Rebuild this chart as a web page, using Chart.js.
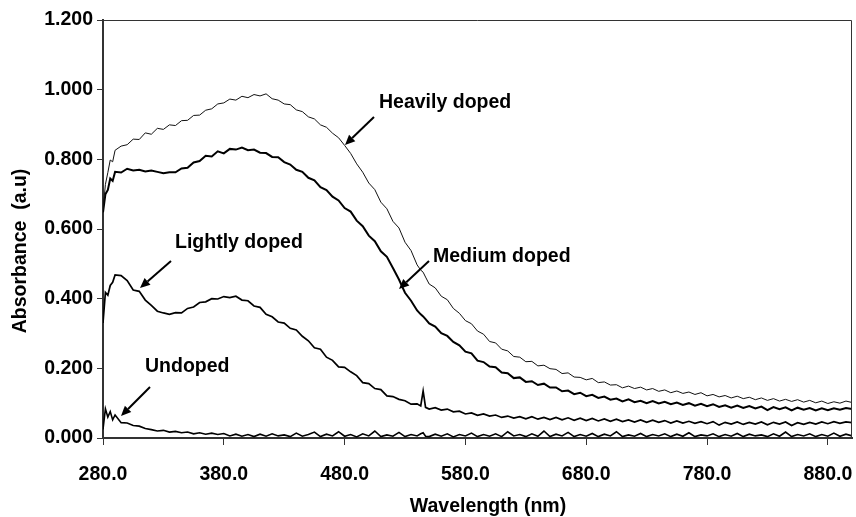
<!DOCTYPE html>
<html>
<head>
<meta charset="utf-8">
<script src="https://cdn.jsdelivr.net/npm/chart.js@4/dist/chart.umd.min.js"></script>
<style>
  body { margin: 0; background: #fff; }
  canvas { display: block; }
</style>
</head>
<body>
<canvas id="absChart" width="856" height="517"></canvas>
<script>
// wavelength (nm)
const wavelength = [280, 282, 284, 286, 288, 290, 295, 300, 305, 310, 315, 320, 325, 330, 335, 340, 345, 350, 355, 360,
  365, 370, 375, 380, 385, 390, 395, 400, 405, 410, 415, 420, 425, 430, 435, 440, 445, 450, 455, 460,
  465, 470, 475, 480, 485, 490, 495, 500, 505, 510, 515, 520, 525, 530, 535, 540, 543, 545, 547, 550, 555, 560,
  565, 570, 575, 580, 585, 590, 595, 600, 605, 610, 615, 620, 625, 630, 635, 640, 645, 650, 655, 660,
  665, 670, 675, 680, 685, 690, 695, 700, 705, 710, 715, 720, 725, 730, 735, 740, 745, 750, 755, 760,
  765, 770, 775, 780, 785, 790, 795, 800, 805, 810, 815, 820, 825, 830, 835, 840, 845, 850, 855, 860,
  865, 870, 875, 880, 885, 890, 895, 900];

const heavilyDoped = [0.655, 0.728, 0.762, 0.798, 0.793, 0.826, 0.838, 0.842, 0.858, 0.857, 0.876, 0.872, 0.889, 0.886, 0.899, 0.897, 0.911, 0.912, 0.926, 0.927,
  0.941, 0.945, 0.959, 0.962, 0.973, 0.970, 0.981, 0.977, 0.986, 0.982, 0.988, 0.974, 0.970, 0.959, 0.957, 0.942, 0.937, 0.922, 0.916, 0.899,
  0.892, 0.875, 0.862, 0.840, 0.817, 0.787, 0.763, 0.732, 0.713, 0.677, 0.658, 0.622, 0.603, 0.562, 0.538, 0.497, 0.482, 0.476, 0.462, 0.442, 0.431, 0.407,
  0.397, 0.372, 0.358, 0.337, 0.328, 0.307, 0.298, 0.277, 0.273, 0.255, 0.250, 0.234, 0.232, 0.219, 0.220, 0.207, 0.209, 0.199, 0.197, 0.185,
  0.187, 0.175, 0.174, 0.167, 0.171, 0.159, 0.161, 0.152, 0.153, 0.144, 0.149, 0.142, 0.146, 0.138, 0.142, 0.134, 0.138, 0.130, 0.135, 0.128,
  0.132, 0.125, 0.130, 0.121, 0.125, 0.118, 0.122, 0.115, 0.120, 0.113, 0.117, 0.110, 0.115, 0.108, 0.113, 0.106, 0.111, 0.105, 0.110, 0.103,
  0.108, 0.101, 0.106, 0.099, 0.104, 0.100, 0.106, 0.102];

const mediumDoped = [0.648, 0.700, 0.712, 0.745, 0.738, 0.764, 0.762, 0.773, 0.768, 0.770, 0.765, 0.768, 0.764, 0.760, 0.763, 0.763, 0.774, 0.776, 0.791, 0.795,
  0.810, 0.808, 0.823, 0.817, 0.830, 0.828, 0.834, 0.826, 0.828, 0.819, 0.818, 0.807, 0.806, 0.792, 0.785, 0.770, 0.764, 0.747, 0.740, 0.720,
  0.712, 0.693, 0.682, 0.660, 0.650, 0.624, 0.608, 0.581, 0.565, 0.536, 0.520, 0.488, 0.455, 0.417, 0.394, 0.366, 0.355, 0.349, 0.341, 0.329, 0.320, 0.301,
  0.293, 0.276, 0.266, 0.248, 0.243, 0.222, 0.218, 0.205, 0.203, 0.188, 0.186, 0.172, 0.174, 0.161, 0.163, 0.152, 0.156, 0.145, 0.145, 0.134,
  0.136, 0.126, 0.130, 0.120, 0.124, 0.115, 0.119, 0.110, 0.113, 0.105, 0.111, 0.103, 0.107, 0.100, 0.106, 0.099, 0.104, 0.097, 0.102, 0.095,
  0.100, 0.093, 0.098, 0.091, 0.097, 0.089, 0.094, 0.087, 0.093, 0.086, 0.092, 0.085, 0.090, 0.080, 0.089, 0.083, 0.088, 0.079, 0.087, 0.081,
  0.086, 0.079, 0.085, 0.080, 0.085, 0.081, 0.086, 0.083];

const lightlyDoped = [0.330, 0.418, 0.410, 0.438, 0.447, 0.468, 0.466, 0.452, 0.425, 0.421, 0.396, 0.381, 0.364, 0.359, 0.355, 0.360, 0.359, 0.372, 0.376, 0.389,
  0.391, 0.400, 0.399, 0.406, 0.403, 0.407, 0.396, 0.394, 0.379, 0.375, 0.355, 0.348, 0.333, 0.330, 0.315, 0.310, 0.292, 0.279, 0.259, 0.255,
  0.232, 0.223, 0.204, 0.203, 0.190, 0.179, 0.159, 0.156, 0.142, 0.139, 0.121, 0.119, 0.111, 0.107, 0.097, 0.098, 0.092, 0.135, 0.088, 0.083, 0.087, 0.080,
  0.083, 0.075, 0.077, 0.069, 0.072, 0.065, 0.069, 0.063, 0.066, 0.059, 0.063, 0.057, 0.061, 0.055, 0.061, 0.054, 0.059, 0.053, 0.059, 0.052,
  0.058, 0.051, 0.057, 0.050, 0.056, 0.049, 0.055, 0.048, 0.054, 0.047, 0.052, 0.046, 0.052, 0.045, 0.051, 0.045, 0.050, 0.043, 0.049, 0.043,
  0.048, 0.042, 0.047, 0.041, 0.047, 0.037, 0.045, 0.040, 0.046, 0.039, 0.045, 0.040, 0.046, 0.038, 0.045, 0.040, 0.046, 0.036, 0.044, 0.039,
  0.045, 0.040, 0.046, 0.041, 0.047, 0.042, 0.046, 0.044];

const undoped = [0.025, 0.084, 0.060, 0.076, 0.052, 0.066, 0.044, 0.043, 0.036, 0.034, 0.027, 0.024, 0.020, 0.022, 0.017, 0.019, 0.015, 0.017, 0.012, 0.015,
  0.011, 0.014, 0.010, 0.013, 0.006, 0.011, 0.005, 0.010, 0.004, 0.011, 0.005, 0.012, 0.006, 0.009, 0.004, 0.014, 0.005, 0.010, 0.017, 0.004,
  0.011, 0.006, 0.018, 0.005, 0.010, 0.003, 0.012, 0.006, 0.020, 0.004, 0.009, 0.005, 0.016, 0.004, 0.010, 0.006, 0.012, 0.015, 0.005, 0.004, 0.011, 0.005,
  0.012, 0.003, 0.010, 0.006, 0.014, 0.004, 0.010, 0.005, 0.012, 0.004, 0.018, 0.006, 0.010, 0.004, 0.012, 0.005, 0.020, 0.004, 0.011, 0.006,
  0.016, 0.004, 0.010, 0.005, 0.013, 0.004, 0.011, 0.006, 0.018, 0.004, 0.009, 0.005, 0.013, 0.004, 0.010, 0.006, 0.012, 0.004, 0.011, 0.005,
  0.015, 0.004, 0.009, 0.006, 0.012, 0.004, 0.010, 0.005, 0.013, 0.004, 0.011, 0.006, 0.009, 0.004, 0.012, 0.005, 0.017, 0.004, 0.010, 0.006,
  0.012, 0.004, 0.010, 0.005, 0.014, 0.005, 0.011, 0.006];

const xTicks = [280, 380, 480, 580, 680, 780, 880];
const yTicks = [0, 0.2, 0.4, 0.6, 0.8, 1.0, 1.2];

const FONT = "'Liberation Sans', Arial, sans-serif";

// label text + arrow (from -> tip)
const callouts = [
  { text: 'Heavily doped', tx: 379, ty: 108, from: [374, 117], to: [345, 145] },
  { text: 'Medium doped', tx: 433, ty: 262, from: [429, 261], to: [399, 289] },
  { text: 'Lightly doped', tx: 175, ty: 248, from: [171, 261], to: [140, 288] },
  { text: 'Undoped', tx: 145, ty: 372, from: [150, 387], to: [121, 416] }
];

function pares(ys) {
  return wavelength.map(function (w, i) { return { x: w, y: ys[i] }; });
}

function desenharSeta(ctx, from, to) {
  const ang = Math.atan2(to[1] - from[1], to[0] - from[0]);
  const len = 10, half = 4.5;
  const bx = to[0] - Math.cos(ang) * len;
  const by = to[1] - Math.sin(ang) * len;
  ctx.beginPath();
  ctx.moveTo(from[0], from[1]);
  ctx.lineTo(bx, by);
  ctx.stroke();
  ctx.beginPath();
  ctx.moveTo(to[0], to[1]);
  ctx.lineTo(bx + Math.sin(ang) * half, by - Math.cos(ang) * half);
  ctx.lineTo(bx - Math.sin(ang) * half, by + Math.cos(ang) * half);
  ctx.closePath();
  ctx.fill();
}

const extras = {
  id: 'extras',
  afterDraw(chart) {
    const ctx = chart.ctx;
    const a = chart.chartArea;
    ctx.save();
    // frame top + right
    ctx.strokeStyle = '#333';
    ctx.lineWidth = 1;
    ctx.beginPath();
    ctx.moveTo(a.left, a.top + 0.5);
    ctx.lineTo(a.right - 0.5, a.top + 0.5);
    ctx.lineTo(a.right - 0.5, a.bottom);
    ctx.stroke();

    ctx.fillStyle = '#000';
    ctx.strokeStyle = '#000';
    ctx.lineWidth = 2;
    ctx.font = 'bold 19.5px ' + FONT;
    ctx.textAlign = 'left';
    ctx.textBaseline = 'alphabetic';
    callouts.forEach(function (c) {
      ctx.fillText(c.text, c.tx, c.ty);
      desenharSeta(ctx, c.from, c.to);
    });

    // axis titles
    ctx.textAlign = 'center';
    ctx.fillText('Wavelength (nm)', 488, 512);
    ctx.translate(26, 251);
    ctx.rotate(-Math.PI / 2);
    ctx.fillText('Absorbance  (a.u)', 0, 0);
    ctx.restore();
  }
};

new Chart(document.getElementById('absChart'), {
  type: 'line',
  data: {
    datasets: [
      { label: 'Heavily doped', data: pares(heavilyDoped), borderColor: '#111', borderWidth: 1 },
      { label: 'Medium doped', data: pares(mediumDoped), borderColor: '#000', borderWidth: 2 },
      { label: 'Lightly doped', data: pares(lightlyDoped), borderColor: '#000', borderWidth: 1.7 },
      { label: 'Undoped', data: pares(undoped), borderColor: '#000', borderWidth: 1.6 }
    ]
  },
  options: {
    responsive: false,
    animation: false,
    devicePixelRatio: 1,
    layout: { padding: { top: 20, right: 4, left: 0, bottom: 0 } },
    elements: { point: { radius: 0 }, line: { tension: 0 } },
    plugins: { legend: { display: false }, tooltip: { enabled: false } },
    scales: {
      x: {
        type: 'linear',
        min: 280,
        max: 900,
        afterBuildTicks: function (s) { s.ticks = xTicks.map(function (v) { return { value: v }; }); },
        afterFit: function (s) { s.height = 79; s.paddingLeft = 0; s.paddingRight = 0; },
        border: { display: true, color: '#333', width: 2 },
        grid: { drawOnChartArea: false, drawTicks: true, tickLength: 7, color: '#333' },
        ticks: {
          color: '#000',
          padding: 18,
          maxRotation: 0,
          font: { family: FONT, size: 19.5, weight: 'bold' },
          callback: function (v) { return Number(v).toFixed(1); }
        }
      },
      y: {
        min: 0,
        max: 1.2,
        afterBuildTicks: function (s) { s.ticks = yTicks.map(function (v) { return { value: v }; }); },
        afterFit: function (s) { s.width = 103; s.paddingTop = 0; s.paddingBottom = 0; },
        border: { display: true, color: '#333', width: 2 },
        grid: { drawOnChartArea: false, drawTicks: true, tickLength: 6, color: '#333' },
        ticks: {
          color: '#000',
          padding: 4,
          font: { family: FONT, size: 19.5, weight: 'bold' },
          callback: function (v) { return Number(v).toFixed(3); }
        }
      }
    }
  },
  plugins: [extras]
});
</script>
</body>
</html>
